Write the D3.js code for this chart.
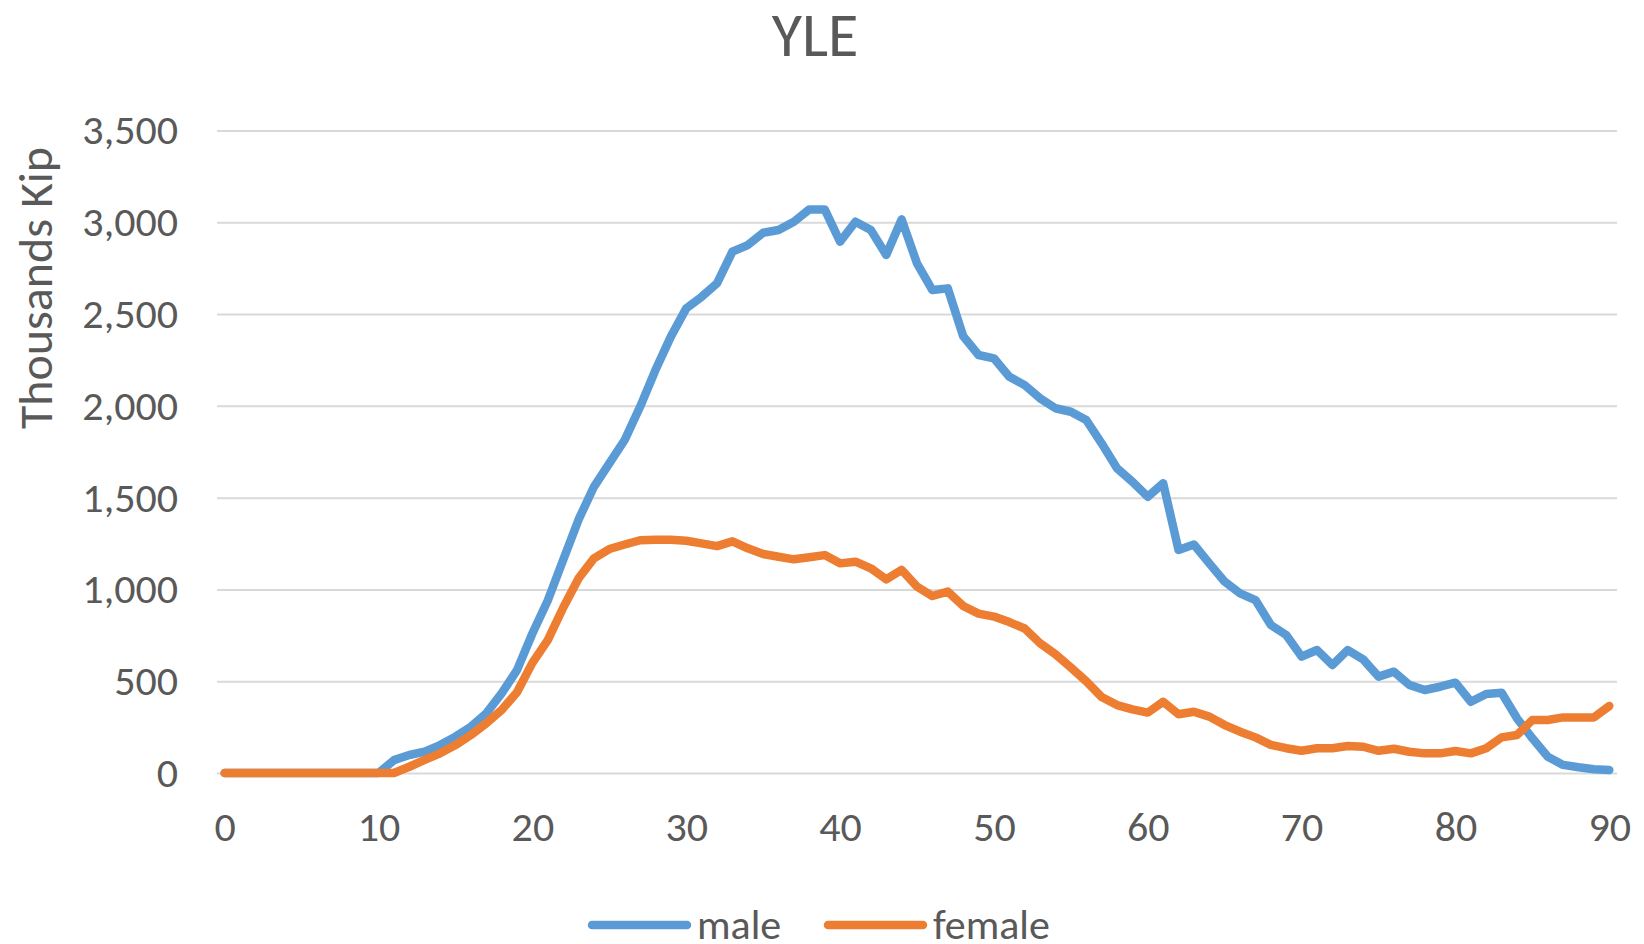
<!DOCTYPE html>
<html>
<head>
<meta charset="utf-8">
<script src="https://cdn.jsdelivr.net/npm/d3@7"></script>
<style>
  body { margin: 0; background: #fff; }
  svg { display: block; font-family: Carlito, Calibri, "Liberation Sans", Arial, sans-serif; }
</style>
</head>
<body>
<svg></svg>
<script>
var width  = 1644,
    height = 944;

// ages 0..90
var ages = d3.range(0, 91);

var male = [
  0, 0, 0, 0, 0, 0, 0, 0, 0, 0,
  0, 70, 98, 116, 152, 198, 252, 325, 434, 560,
  760, 940, 1160, 1380, 1559, 1687, 1814, 1995, 2195, 2377,
  2531, 2594, 2667, 2840, 2876, 2943, 2958, 3003, 3070, 3070,
  2894, 3003, 2958, 2822, 3016, 2776, 2631, 2640, 2380, 2277,
  2259, 2159, 2113, 2041, 1987, 1968, 1923, 1796, 1660, 1587,
  1505, 1578, 1215, 1245, 1142, 1042, 979, 942, 806, 752,
  634, 670, 588, 670, 619, 525, 552, 480, 452, 470,
  492, 388, 430, 437, 298, 189, 89, 44, 31, 20,
  16
];

var female = [
  0, 0, 0, 0, 0, 0, 0, 0, 0, 0,
  0, 0, 34, 71, 107, 152, 207, 271, 343, 440,
  600, 724, 900, 1060, 1169, 1220, 1245, 1268, 1270, 1270,
  1265, 1251, 1236, 1262, 1224, 1193, 1178, 1164, 1175, 1187,
  1142, 1151, 1115, 1055, 1106, 1015, 964, 988, 910, 868,
  852, 822, 787, 707, 647, 575, 500, 414, 370, 347,
  329, 388, 320, 334, 307, 261, 225, 194, 153, 135,
  121, 135, 135, 147, 143, 121, 132, 116, 107, 107,
  120, 107, 135, 194, 207, 289, 289, 303, 303, 303,
  365
];

var xTicks = [0, 10, 20, 30, 40, 50, 60, 70, 80, 90];
var yTicks = [0, 500, 1000, 1500, 2000, 2500, 3000, 3500];

var seriesNames  = ["male", "female"];
var seriesColors = ["#5B9BD5", "#ED7D31"];

var plotLeft = 217, plotRight = 1617, plotTop = 130.5, plotBottom = 773;

var x = d3.scalePoint().domain(ages).range([plotLeft, plotRight]).padding(0.5);
var y = d3.scaleLinear().domain([0, 3500]).range([plotBottom, plotTop]);

var svg = d3.select('svg')
  .attr("width", width)
  .attr("height", height);

// gridlines + y labels
var yAxis = svg.append("g")
  .attr("transform", "translate(" + plotLeft + ",0)")
  .call(d3.axisLeft(y).tickValues(yTicks).tickFormat(d3.format(",")).tickSize(-(plotRight - plotLeft)).tickPadding(39));
yAxis.attr("font-family", null).attr("font-size", null);
yAxis.select(".domain").remove();
yAxis.selectAll(".tick line").attr("stroke", "#d9d9d9").attr("stroke-width", 2);
yAxis.selectAll(".tick text")
  .attr("fill", "#595959")
  .style("font-size", "42px");

// x labels
var xAxis = svg.append("g")
  .attr("transform", "translate(0," + plotBottom + ")")
  .call(d3.axisBottom(x).tickValues(xTicks).tickSize(0));
xAxis.attr("font-family", null).attr("font-size", null);
xAxis.select(".domain").remove();
xAxis.selectAll(".tick text")
  .attr("y", 68)
  .attr("dy", 0)
  .attr("fill", "#595959")
  .style("font-size", "42px");

var line = d3.line()
  .x(function(d, i) { return x(ages[i]); })
  .y(function(d) { return y(d); });

[male, female].forEach(function(s, i) {
  svg.append("path")
    .datum(s)
    .attr("fill", "none")
    .attr("stroke", seriesColors[i])
    .attr("stroke-width", 8.5)
    .attr("stroke-linejoin", "round")
    .attr("stroke-linecap", "round")
    .attr("d", line);
});

// title
svg.append("text")
  .attr("x", 815)
  .attr("y", 56)
  .attr("text-anchor", "middle")
  .attr("fill", "#595959")
  .style("font-size", "62px")
  .text("YLE");

// y axis title
svg.append("text")
  .attr("transform", "translate(52,288) rotate(-90)")
  .attr("text-anchor", "middle")
  .attr("fill", "#595959")
  .style("font-size", "48px")
  .text("Thousands Kip");

// legend
var legendX = [592, 828];
seriesNames.forEach(function(n, i) {
  var g = svg.append("g").attr("transform", "translate(" + legendX[i] + ",925)");
  g.append("line")
    .attr("x1", 0).attr("x2", 95)
    .attr("stroke", seriesColors[i])
    .attr("stroke-width", 8.5)
    .attr("stroke-linecap", "round");
  g.append("text")
    .attr("x", 105)
    .attr("y", 14)
    .attr("fill", "#595959")
    .style("font-size", "42px")
    .text(n);
});
</script>
</body>
</html>
